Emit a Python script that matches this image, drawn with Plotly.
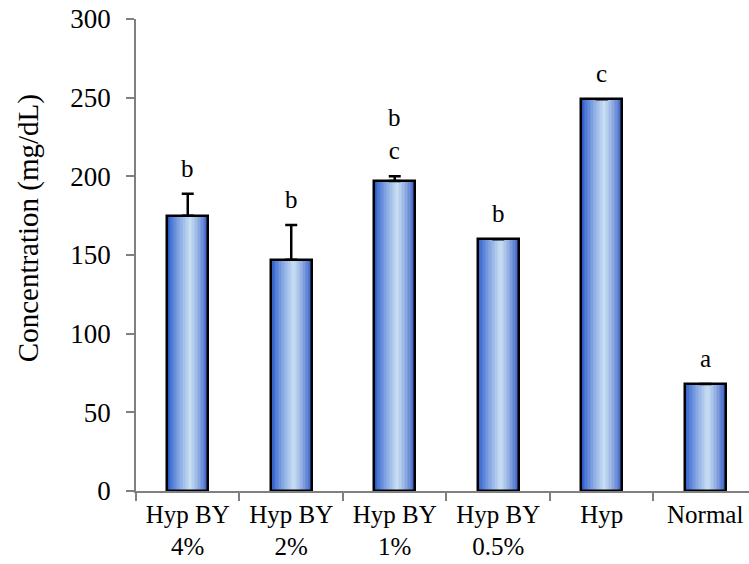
import plotly.graph_objects as go

# Treatment groups and measured concentrations (mg/dL)
groups = ["Hyp BY<br>4%", "Hyp BY<br>2%", "Hyp BY<br>1%", "Hyp BY<br>0.5%", "Hyp", "Normal"]
values = [175, 147, 197, 160, 249, 68]
errors = [14, 22, 3, 0, 0, 0]
letters = ["b", "b", "b<br>c", "b", "c", "a"]

BAR_W = 0.40
N_STRIPS = 28
FONT = "Liberation Serif, Times New Roman, serif"


def lerp(a, b, t):
    return tuple(int(round(a[i] + (b[i] - a[i]) * t)) for i in range(3))


def shade(t):
    # horizontal blue gradient: dark edges, pale centre
    dark_l = (28, 80, 200)
    light = (200, 222, 243)
    dark_r = (52, 90, 196)
    peak = 0.55
    if t <= peak:
        u = t / peak
        return lerp(dark_l, light, u ** 0.8)
    u = (t - peak) / (1 - peak)
    return lerp(light, dark_r, u ** 1.2)


fig = go.Figure()

step = BAR_W / N_STRIPS
for i in range(N_STRIPS):
    t = (i + 0.5) / N_STRIPS
    r, g, b = shade(t)
    w = step * 1.6 if i < N_STRIPS - 1 else step
    fig.add_trace(go.Bar(
        x=groups, y=values,
        width=w, offset=-BAR_W / 2 + i * step,
        marker=dict(color=f"rgb({r},{g},{b})", line=dict(width=0)),
        hoverinfo="skip", showlegend=False,
    ))

# outline and one-sided error bars
fig.add_trace(go.Bar(
    x=groups, y=values,
    width=BAR_W, offset=-BAR_W / 2,
    marker=dict(color="rgba(0,0,0,0)", line=dict(color="black", width=2.5)),
    error_y=dict(type="data", array=errors, arrayminus=[0] * len(errors),
                 symmetric=False, color="black", thickness=2.5, width=6),
    showlegend=False,
))

# significance letters above each bar
for g, v, e, lab in zip(groups, values, errors, letters):
    fig.add_annotation(
        x=g, y=v + e, text=lab, showarrow=False,
        yanchor="bottom", yshift=10,
        font=dict(family=FONT, size=25, color="black"),
    )

# y-axis title
fig.add_annotation(
    xref="paper", yref="paper", x=-0.176, y=0.557, xanchor="center", yanchor="middle",
    text="Concentration (mg/dL)", textangle=-90, showarrow=False,
    font=dict(family=FONT, size=29, color="black"),
)

fig.update_layout(
    width=749, height=564,
    margin=dict(l=136, r=0, t=19, b=73),
    paper_bgcolor="white", plot_bgcolor="white",
    barmode="overlay", bargap=0,
    font=dict(family=FONT, color="black"),
)

fig.update_xaxes(
    range=[-0.5, 5.423], showline=True, linecolor="#808080", linewidth=1.5,
    ticks="outside", tickson="boundaries", ticklen=8, tickcolor="#808080", tickwidth=1.5,
    showgrid=False, tickfont=dict(family=FONT, size=25, color="black"),
    ticklabelstandoff=0, automargin=False,
)
fig.update_yaxes(
    range=[0, 300], dtick=50, showline=True, linecolor="#808080", linewidth=1.5,
    ticks="outside", ticklen=8, tickcolor="#808080", tickwidth=1.5,
    showgrid=False, zeroline=False, tickfont=dict(family=FONT, size=27, color="black"),
    ticklabelstandoff=10, automargin=False,
)

fig.write_html("out.html")
